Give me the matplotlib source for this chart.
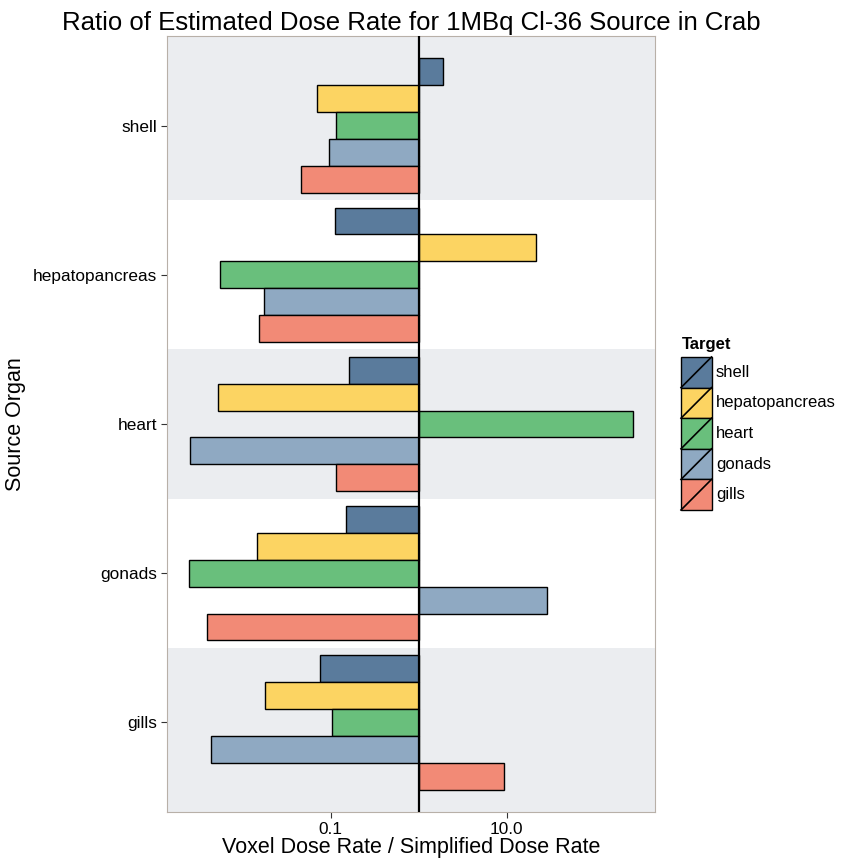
import matplotlib
matplotlib.use("Agg")
import matplotlib.pyplot as plt
import numpy as np
from matplotlib.patches import Rectangle
from matplotlib.lines import Line2D

plt.rcParams['font.family'] = ['Liberation Sans', 'DejaVu Sans']

sources = ['shell', 'hepatopancreas', 'heart', 'gonads', 'gills']
targets = ['shell', 'hepatopancreas', 'heart', 'gonads', 'gills']
colours = ['#5a7b9c', '#fcd462', '#69bf7c', '#8fa9c2', '#f28a76']

# ratio voxel / simplified, rows = source organ, columns = target
ratio_shell = [1.87, 0.0704, 0.114, 0.0964, 0.0463]
ratio_hepato = [0.112, 21.4, 0.00552, 0.0173, 0.0153]
ratio_heart = [0.161, 0.00524, 275.0, 0.0025, 0.116]
ratio_gonads = [0.149, 0.0145, 0.00243, 28.5, 0.00396]
ratio_gills = [0.0757, 0.0181, 0.103, 0.00436, 9.32]
ratios = [ratio_shell, ratio_hepato, ratio_heart, ratio_gonads, ratio_gills]

W, H = 842, 867
fig = plt.figure(figsize=(W / 100, H / 100), dpi=100)
L, R, T, B = 167, 655, 36, 812
ax = fig.add_axes([L / W, 1 - B / H, (R - L) / W, (B - T) / H])

ax.set_xscale('log')
ax.set_xlim(0.00138, 484)
ax.set_ylim(5.6, 0.4)

# alternating background bands
n = len(sources)
for i in range(n):
    if i % 2 == 0:
        lo = i + 0.5 if i > 0 else 0.4
        hi = i + 1.5 if i < n - 1 else 5.6
        ax.axhspan(lo, hi, color='#ebedf0', lw=0, zorder=0)

bh = 0.18
for i, src in enumerate(sources):
    for j, tgt in enumerate(targets):
        y = i + 1 + (j - 2) * bh
        v = ratios[i][j]
        ax.barh(y, v - 1, left=1, height=bh, color=colours[j],
                edgecolor='black', linewidth=1.0, zorder=2)

ax.axvline(1, color='black', lw=1.6, zorder=3)

ax.set_yticks(range(1, n + 1))
ax.set_yticklabels(sources, fontsize=12.4)
ax.set_xticks([0.1, 10])
ax.set_xticklabels(['0.1', '10.0'], fontsize=12.4)
ax.minorticks_off()
ax.tick_params(axis='both', length=4, width=0.8, color='#333333', pad=3)
for s in ax.spines.values():
    s.set_color('#b8b0a8')
    s.set_linewidth(0.8)

ax.set_xlabel('Voxel Dose Rate / Simplified Dose Rate', fontsize=15.5, labelpad=0)
ax.set_ylabel('Source Organ', fontsize=15.5, labelpad=5)
ax.set_title('Ratio of Estimated Dose Rate for 1MBq Cl-36 Source in Crab',
             fontsize=18.5, pad=4)

# legend (boxes with diagonal line as in ggplot)
fig.text(682 / W, 1 - 349 / H, 'Target', fontsize=12, fontweight='bold',
         va='baseline', ha='left')
kx0, kw, ky0, kh = 681, 30.5, 357, 30.6
for j, tgt in enumerate(targets):
    y0 = ky0 + j * kh
    fig.add_artist(Rectangle((kx0 / W, 1 - (y0 + kh) / H), kw / W, kh / H,
                             facecolor=colours[j], edgecolor='black',
                             linewidth=1.0, transform=fig.transFigure))
    fig.add_artist(Line2D([kx0 / W, (kx0 + kw) / W],
                          [1 - (y0 + kh) / H, 1 - y0 / H],
                          color='black', lw=1.2, transform=fig.transFigure))
    fig.text(716 / W, 1 - (y0 + kh / 2) / H, tgt, fontsize=12,
             va='center', ha='left')

fig.savefig('out.png', dpi=100)
